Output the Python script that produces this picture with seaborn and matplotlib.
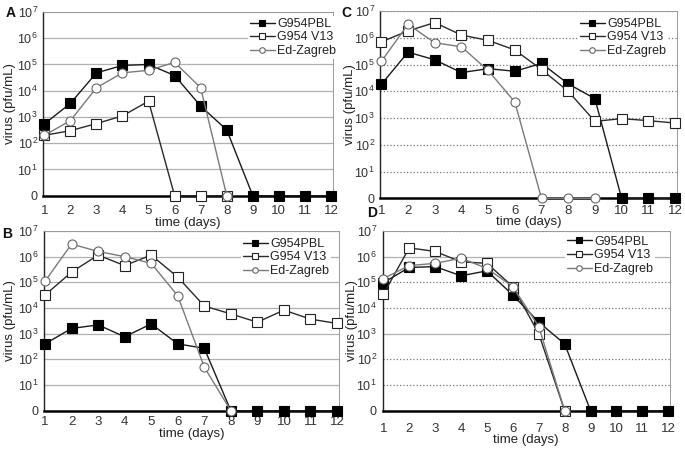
import pandas as pd
import seaborn as sns
import matplotlib.pyplot as plt
from matplotlib.lines import Line2D
from matplotlib.ticker import NullLocator

sns.set_style('white')
plt.rcParams['font.family'] = ['Liberation Sans', 'DejaVu Sans']
plt.rcParams['mathtext.fontset'] = 'custom'
plt.rcParams['mathtext.rm'] = 'Liberation Sans'
plt.rcParams['mathtext.it'] = 'Liberation Sans'

days = list(range(1, 13))
strains = ['G954PBL', 'G954 V13', 'Ed-Zagreb']
ytick_exps = list(range(0, 8))

# virus titers (pfu/mL); 0 = nothing detected
a_pbl = [5.4e2, 3.3e3, 4.8e4, 9.2e4, 1.0e5, 3.8e4, 2.6e3, 3.2e2, 0, 0, 0, 0]
a_v13 = [2.0e2, 3.0e2, 5.6e2, 1.1e3, 4.0e3, 0, 0, 0]
a_edz = [2.0e2, 7.2e2, 1.3e4, 4.8e4, 6.0e4, 1.2e5, 1.3e4, 0]

b_pbl = [4.0e2, 1.6e3, 2.2e3, 7.6e2, 2.4e3, 4.0e2, 2.7e2, 0, 0, 0, 0, 0]
b_v13 = [3.2e4, 2.5e5, 1.15e6, 4.5e5, 1.15e6, 1.6e5, 1.2e4, 5.9e3, 2.8e3, 8.3e3, 3.7e3, 2.5e3]
b_edz = [1.1e5, 3.1e6, 1.6e6, 1.0e6, 5.5e5, 3.0e4, 5.0e1, 0]

c_pbl = [1.8e4, 2.9e5, 1.5e5, 5.0e4, 7.0e4, 5.6e4, 1.1e5, 1.9e4, 5.3e3, 0, 0, 0]
c_v13 = [7.0e5, 1.8e6, 3.7e6, 1.26e6, 8.0e5, 3.5e5, 6.5e4, 1.0e4, 7.5e2, 9.5e2, 8.0e2, 6.5e2]
c_edz = [1.3e5, 3.2e6, 6.5e5, 4.6e5, 6.0e4, 4.0e3, 0, 0, 0]

d_pbl = [9.7e4, 3.8e5, 4.1e5, 1.8e5, 2.8e5, 3.2e4, 2.8e3, 4.0e2, 0, 0, 0, 0]
d_v13 = [3.4e4, 2.2e6, 1.6e6, 6.3e5, 5.5e5, 6.8e4, 1.0e3, 0]
d_edz = [1.4e5, 4.5e5, 5.5e5, 8.7e5, 3.5e5, 6.8e4, 1.9e3, 0]

styles = {
    'G954PBL': dict(color='#1a1a1a', marker='s', markersize=7, markerfacecolor='black',
                    markeredgecolor='black', markeredgewidth=0.8, linewidth=1.0),
    'G954 V13': dict(color='#2a2a2a', marker='s', markersize=6.5, markerfacecolor='white',
                     markeredgecolor='#222222', markeredgewidth=0.8, linewidth=1.0),
    'Ed-Zagreb': dict(color='#7a7a7a', marker='o', markersize=6.5, markerfacecolor='white',
                      markeredgecolor='#666666', markeredgewidth=0.8, linewidth=1.0),
}

W, H = 685, 449
fig = plt.figure(figsize=(W / 100, H / 100), dpi=100)


def draw_panel(series, letter, x1, x12, top, bottom, grid, legend_xy, letter_xy,
               ylabel_x, tick_pad_x, xlabel_top):
    left, right = x1 - 0.8, x12 + 1.5
    ax = fig.add_axes([left / W, 1 - bottom / H, (right - left) / W, (bottom - top) / H])
    step = (x12 - x1) / 11
    for name, vals in zip(strains, series):
        df = pd.DataFrame({'day': days[:len(vals)], 'virus': vals})
        df['y'] = df['virus'].where(df['virus'] > 0, 1)
        sns.lineplot(data=df, x='day', y='y', ax=ax, errorbar=None, sort=False,
                     clip_on=False, zorder=3, **styles[name])
    ax.set_yscale('log')
    ax.set_ylim(1, 1e7)
    ax.set_xlim(1 - (x1 - left) / step, 12 + (right - x12) / step)
    ax.set_yticks([10 ** k for k in ytick_exps])
    ax.set_yticklabels(['0'] + ['$10^{%d}$' % k for k in ytick_exps[1:]])
    ax.yaxis.set_minor_locator(NullLocator())
    ax.set_xticks(days)
    ax.set_xticklabels([str(d) for d in days])
    for k in ytick_exps[1:]:
        ls = grid[k - 1]
        ax.axhline(10 ** k, color='#b0b0b0' if ls == '-' else '#777777',
                   lw=0.9, ls=ls, zorder=0)
    for s in ['top', 'right']:
        ax.spines[s].set_color('#999999')
        ax.spines[s].set_linewidth(0.7)
    ax.spines['left'].set_color('#222222')
    ax.spines['left'].set_linewidth(1.0)
    ax.spines['bottom'].set_color('black')
    ax.spines['bottom'].set_linewidth(1.8)
    ax.tick_params(axis='both', direction='inout', length=4, width=0.8,
                   colors='#222222', labelcolor='#333333', labelsize=9.5)
    ax.tick_params(axis='y', pad=2, labelsize=9)
    ax.tick_params(axis='x', pad=tick_pad_x)
    ax.set_xlabel('time (days)', fontsize=9.5, color='#222222')
    ax.set_ylabel('virus (pfu/mL)', fontsize=9.5, color='#222222')
    ax.xaxis.set_label_coords(0.5, -(xlabel_top - bottom) / (bottom - top))
    ax.yaxis.set_label_coords(-(left - ylabel_x) / (right - left), 0.5)

    handles = [Line2D([], [], **{**styles[n], 'markersize': 4}) for n in strains]
    leg = ax.legend(handles, strains, loc='upper left',
                    bbox_to_anchor=(legend_xy[0] / W, 1 - legend_xy[1] / H),
                    bbox_transform=fig.transFigure, frameon=True, fancybox=False,
                    facecolor='white', edgecolor='none', framealpha=1,
                    fontsize=9, handlelength=2.0, handletextpad=0.2,
                    labelspacing=0.12, borderpad=0.15, borderaxespad=0)
    leg.set_zorder(5)
    for t in leg.get_texts():
        t.set_color('#222222')
    fig.text(letter_xy[0] / W, 1 - letter_xy[1] / H, letter, fontsize=10,
             fontweight='bold', ha='left', va='center', color='#111111')
    return ax


solid = ['-'] * 7
dotted = [':'] * 7
mixed = [':', ':', '-', ':', ':', '-', ':']

draw_panel([a_pbl, a_v13, a_edz], 'A', 44.3, 331, 12, 195.7, solid,
           (248, 16), (6, 13), 16, 5, 217)
draw_panel([c_pbl, c_v13, c_edz], 'C', 381.3, 675, 11, 198.3, dotted,
           (578, 16), (341, 13), 356, 3, 216)
draw_panel([b_pbl, b_v13, b_edz], 'B', 45, 337, 231, 410.7, solid,
           (241, 236), (2, 234), 16, 2, 428)
draw_panel([d_pbl, d_v13, d_edz], 'D', 383.3, 668.3, 231, 410.7, mixed,
           (565, 234), (367, 213), 358, 7, 434)

fig.savefig('out.png', dpi=100)
